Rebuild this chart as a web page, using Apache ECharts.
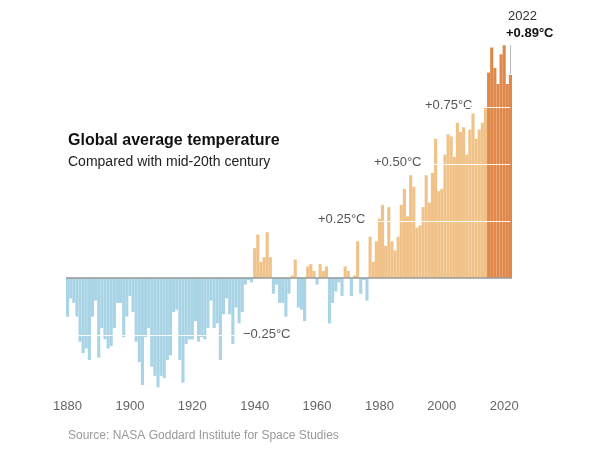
<!DOCTYPE html><html><head><meta charset="utf-8"><script src="https://cdn.jsdelivr.net/npm/echarts@6/dist/echarts.min.js"></script></head><body style="margin:0"><div id="c" style="width:600px;height:450px"></div><script>
const years=[];for(let y=1880;y<=2022;y++)years.push(String(y));
const anomalies=[-0.17,-0.09,-0.11,-0.17,-0.28,-0.33,-0.31,-0.36,-0.17,-0.10,-0.35,-0.22,-0.27,-0.31,-0.30,-0.22,-0.11,-0.11,-0.26,-0.17,
-0.08,-0.15,-0.28,-0.37,-0.47,-0.26,-0.22,-0.39,-0.43,-0.48,-0.43,-0.44,-0.36,-0.34,-0.15,-0.14,-0.36,-0.46,-0.29,-0.27,
-0.27,-0.19,-0.28,-0.26,-0.27,-0.22,-0.10,-0.22,-0.20,-0.36,-0.16,-0.09,-0.16,-0.29,-0.13,-0.20,-0.15,-0.03,-0.01,-0.02,
0.13,0.19,0.07,0.09,0.20,0.09,-0.07,-0.03,-0.11,-0.11,-0.17,-0.07,0.01,0.08,-0.13,-0.14,-0.19,0.05,0.06,0.03,
-0.03,0.06,0.03,0.05,-0.20,-0.11,-0.06,-0.02,-0.08,0.05,0.03,-0.08,0.01,0.16,-0.07,-0.01,-0.10,0.18,0.07,0.16,
0.26,0.32,0.14,0.31,0.16,0.12,0.18,0.32,0.39,0.27,0.45,0.40,0.22,0.23,0.31,0.45,0.33,0.46,0.61,0.38,
0.39,0.54,0.63,0.62,0.53,0.68,0.64,0.66,0.54,0.65,0.72,0.61,0.65,0.68,0.75,0.90,1.01,0.92,0.85,0.98,
1.02,0.85,0.89];
const gridLines=[{v:0.25,from:'1975'},{v:0.50,from:'1996'},{v:0.75,from:'2007'}];
const col=(y,v)=>+y>=2015?'#e0874a':(v>=0?'#f0c288':'#a9d4e6');
const ml=[];
gridLines.forEach(g=>ml.push([{coord:[g.from,g.v]},{coord:['2022',g.v]}]));
ml.push([{coord:['1883',-0.25]},{coord:['1934',-0.25]}]);
const c=echarts.init(document.getElementById('c'));
c.setOption({animation:false,
grid:{left:66,right:88,top:27,bottom:61.6},
xAxis:{type:'category',data:years,axisLine:{show:false},
 axisTick:{alignWithLabel:true,length:8,lineStyle:{color:'#999'},interval:(i,v)=>+v%20===0},
 axisLabel:{interval:(i,v)=>+v%20===0,color:'#666',fontSize:13,fontFamily:'Liberation Sans',margin:12}},
yAxis:{type:'value',min:-0.485,max:1.1,show:false,splitLine:{show:false}},
series:[{type:'bar',barCategoryGap:0,data:anomalies.map((v,i)=>({value:v,itemStyle:{color:col(years[i],v)}})),
 markLine:{silent:true,symbol:'none',label:{show:false},lineStyle:{color:'#fff',width:1.2,type:'solid',opacity:0.9},data:ml}},
{type:'line',data:[],markLine:{silent:true,symbol:'none',label:{show:false},lineStyle:{color:'#999',width:1.5,type:'solid'},data:[{yAxis:0}]}}],
graphic:[
{type:'text',left:68,top:133,style:{text:'Global average temperature',font:'bold 16px Liberation Sans',fill:'#111'}},
{type:'text',left:68,top:155,style:{text:'Compared with mid-20th century',font:'14px Liberation Sans',fill:'#222'}},
{type:'text',left:68,top:430,style:{text:'Source: NASA Goddard Institute for Space Studies',font:'12px Liberation Sans',fill:'#999'}},
{type:'text',left:318,top:213,style:{text:'+0.25°C',font:'13px Liberation Sans',fill:'#555'}},
{type:'text',left:374,top:156,style:{text:'+0.50°C',font:'13px Liberation Sans',fill:'#555'}},
{type:'text',left:425,top:99,style:{text:'+0.75°C',font:'13px Liberation Sans',fill:'#555'}},
{type:'text',left:243,top:328,style:{text:'−0.25°C',font:'13px Liberation Sans',fill:'#555'}},
{type:'text',left:508,top:10,style:{text:'2022',font:'13px Liberation Sans',fill:'#333'}},
{type:'text',left:506,top:27,style:{text:'+0.89°C',font:'bold 13px Liberation Sans',fill:'#111'}},
{type:'line',shape:{x1:510.5,y1:45,x2:510.5,y2:74},style:{stroke:'#bbb',lineWidth:1}}
]});
</script></body></html>
